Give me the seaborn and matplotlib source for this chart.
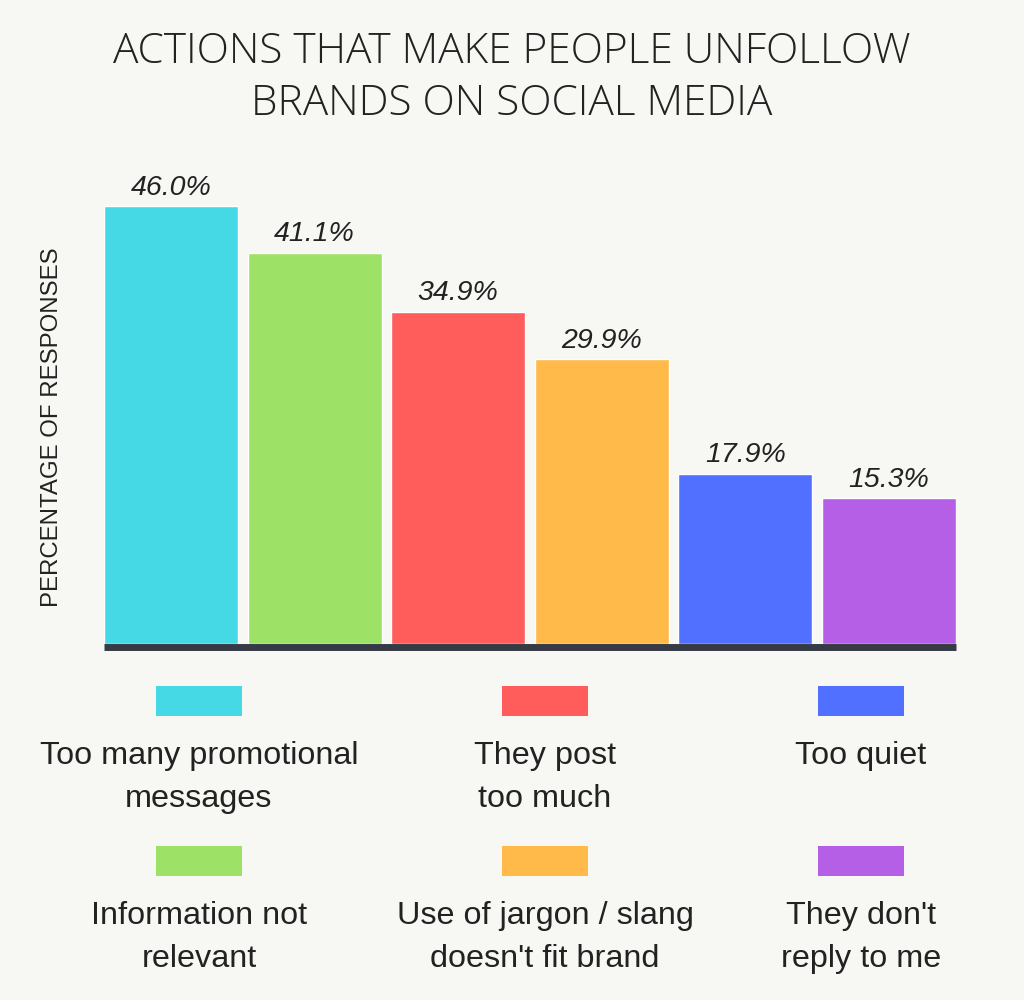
import matplotlib
matplotlib.use("Agg")
import matplotlib.pyplot as plt
import pandas as pd
import seaborn as sns

# dados do grafico
acoes = ["Too many promotional\nmessages", "Information not\nrelevant", "They post\ntoo much",
         "Use of jargon / slang\ndoesn't fit brand", "Too quiet", "They don't\nreply to me"]
percentuais = [46.0, 41.1, 34.9, 29.9, 17.9, 15.3]
cores = ["#45d9e6", "#9de266", "#ff5c5c", "#ffba4a", "#5170ff", "#b45fe6"]

titulo = "ACTIONS THAT MAKE PEOPLE UNFOLLOW\nBRANDS ON SOCIAL MEDIA"
rotulo_y = "PERCENTAGE OF RESPONSES"

fundo = "#f7f7f3"
texto = "#222222"

sns.set_theme(style="white")
plt.rcParams["font.family"] = ["Liberation Sans", "DejaVu Sans"]

data = pd.DataFrame({"Acao": acoes, "Percentual": percentuais})

fig = plt.figure(figsize=(10.24, 10.0), dpi=100, facecolor=fundo)
ax = fig.add_axes([0.1016, 0.356, 0.832, 0.476])
ax.set_facecolor(fundo)

sns.barplot(data=data, x="Acao", y="Percentual", hue="Acao", palette=cores,
            width=0.934, saturation=1, legend=False, ax=ax)
ax.set_xlim(-0.467, 5.467)
ax.set_ylim(0, 50)

# rotulos dos valores
for cont in ax.containers:
    ax.bar_label(cont, fmt="%.1f%%", padding=4, fontsize=20.5, fontstyle="italic", color=texto)

ax.set_xticks([])
ax.set_yticks([])
ax.set_xlabel("")
ax.set_ylabel("")
for lado in ["top", "right", "left"]:
    ax.spines[lado].set_visible(False)
ax.spines["bottom"].set_color("#363a45")
ax.spines["bottom"].set_linewidth(5)
ax.spines["bottom"].set_capstyle("butt")
ax.spines["bottom"].set_position(("outward", 2.5))

fig.text(0.5, 0.9225, titulo, ha="center", va="center", fontsize=30.5, color=texto,
         family=["Open Sans", "DejaVu Sans"], fontweight="light", linespacing=1.3)
fig.text(0.051, 0.573, rotulo_y, rotation=90, ha="center", va="center", fontsize=17.3, color=texto)

# legenda feita na mao: quadradinho em cima, texto embaixo
lg = fig.add_axes([0, 0, 1, 1])
lg.set_xlim(0, 1024)
lg.set_ylim(1000, 0)
lg.axis("off")
col_x = [199, 545, 861]
linha_y = [701, 861]
for i, (nome, cor) in enumerate(zip(acoes, cores)):
    cx = col_x[i // 2]
    cy = linha_y[i % 2]
    lg.add_patch(plt.Rectangle((cx - 43, cy - 15), 86, 30, color=cor, lw=0))
    lg.text(cx, cy + 40, nome, ha="center", va="top", fontsize=23.3, color=texto, linespacing=1.55)

fig.savefig("out.png", dpi=100, facecolor=fundo)
